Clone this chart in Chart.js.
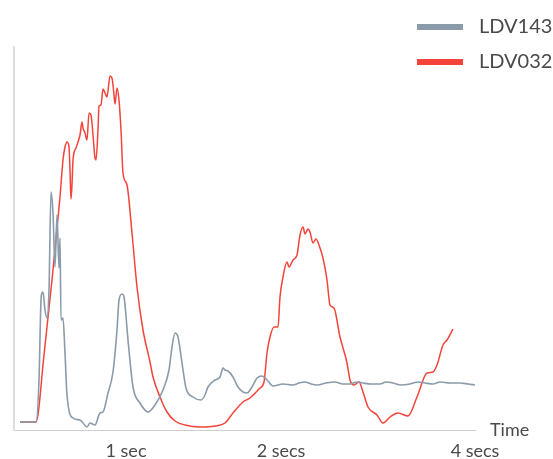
<!DOCTYPE html>
<html>
<head>
<meta charset="utf-8">
<script src="https://cdn.jsdelivr.net/npm/chart.js@4.4.1/dist/chart.umd.min.js"></script>
<style>
  body { margin: 0; background: #fff; font-family: Lato, sans-serif; }
  #wrap { position: relative; width: 553px; height: 459px; }
  #legend { position: absolute; left: 417px; top: 7px; }
  .item { display: flex; align-items: center; height: 35px; color: #4a4a4a; font-size: 20px; }
  .sw { width: 46px; height: 6px; margin-right: 16px; margin-top: 4px; }
</style>
</head>
<body>
<div id="wrap">
  <canvas id="line-chart" width="553" height="459"></canvas>
  <div id="legend"></div>
</div>
<script>
// sample position / amplitude pairs
let LDV143 = [
  [6,8],[22,8],[25,50],[27,130],[28,137],[29,138],[31,120],[33,112],[35,140],[37,238],
  [39,217],[41,163],[43,215],[45,162],[46,192],[47,110],[49,112],[51,77],[53,35],[59,12],
  [66,10],[69,7],[73,3],[76,7],[81,5],[86,17],[89,18],[94,37],[99,58],[103,100],
  [105,130],[108,136],[110,133],[114,90],[119,43],[126,27],[134,18],[141,25],[149,40],[155,60],
  [158,83],[161,97],[164,93],[168,67],[172,42],[179,33],[187,30],[191,35],[194,43],[201,50],
  [206,53],[209,62],[211,60],[214,59],[219,53],[224,43],[229,38],[233,37],[238,43],[243,52],
  [248,54],[253,50],[259,44],[269,46],[279,45],[285,47],[291,48],[297,46],[303,45],[312,47],
  [321,48],[329,46],[336,46],[343,48],[349,47],[357,46],[366,46],[372,48],[379,47],[387,45],
  [396,46],[404,48],[411,47],[419,46],[426,48],[436,47],[446,47],[454,46],[461,45]
];
let LDV032 = [
  [6,8],[14,8],[22,8],[30,75],[38,150],[43,202],[46,233],[49,270],[51,283],[53,288],
  [55,283],[56,260],[57,231],[58,245],[59,270],[62,282],[64,288],[66,295],[68,308],[69,302],
  [71,297],[73,290],[75,317],[77,315],[79,295],[81,272],[82,270],[84,300],[85,324],[87,325],
  [89,341],[91,337],[93,333],[96,354],[98,352],[100,335],[101,326],[103,342],[105,330],[107,300],
  [109,257],[113,245],[118,197],[123,143],[129,100],[136,68],[139,53],[146,33],[153,18],[161,9],
  [171,5],[186,3],[201,4],[211,7],[219,17],[229,28],[236,32],[246,42],[250,48],[253,77],
  [256,93],[260,103],[264,103],[266,133],[269,153],[273,168],[275,163],[279,170],[283,175],[286,195],
  [289,203],[291,196],[294,201],[296,198],[299,187],[302,191],[306,182],[309,172],[313,150],[316,125],
  [320,122],[326,93],[333,67],[336,50],[340,45],[345,48],[349,38],[354,23],[363,15],[369,7],
  [376,13],[384,17],[394,14],[403,33],[413,57],[419,58],[423,65],[429,85],[433,90],[439,101]
];
let tickPos = [112, 267, 461];
let tickText = ["1 sec", "2 secs", "4 secs"];
let seriesNames = ["LDV143", "LDV032"];
let seriesColors = ["#8b9bab", "#f4433a"];

function toPoints(arr) {
    return arr.map(function (p) { return {x: p[0], y: p[1]}; });
}

// "Time" sits to the right of the x axis line
const timeTitle = {
    id: 'timeTitle',
    afterDraw(chart) {
        const c = chart.ctx;
        c.save();
        c.font = '18px Lato';
        c.fillStyle = '#4a4a4a';
        c.textBaseline = 'alphabetic';
        c.fillText('Time', chart.chartArea.right + 15, chart.chartArea.bottom + 6);
        c.restore();
    }
};

const ctx = document.getElementById('line-chart');
const myChart = new Chart(ctx, {
    type: 'line',
    data: {
        datasets: [
            {
                label: seriesNames[0],
                data: toPoints(LDV143),
                borderColor: seriesColors[0],
                backgroundColor: seriesColors[0],
                borderWidth: 1.6,
                pointRadius: 0,
                cubicInterpolationMode: 'monotone',
                fill: false
            },
            {
                label: seriesNames[1],
                data: toPoints(LDV032),
                borderColor: seriesColors[1],
                backgroundColor: seriesColors[1],
                borderWidth: 1.5,
                pointRadius: 0,
                cubicInterpolationMode: 'monotone',
                fill: false
            }
        ]
    },
    options: {
        responsive: false,
        animation: false,
        layout: { padding: { left: 14, right: 78, top: 47, bottom: 0 } },
        plugins: {
            legend: { display: false },
            tooltip: { enabled: false }
        },
        scales: {
            x: {
                type: 'linear',
                min: 0,
                max: 461,
                grid: { display: false, drawTicks: false },
                border: { display: true, color: '#cfcfcf', width: 1 },
                afterBuildTicks: function (scale) {
                    scale.ticks = tickPos.map(function (v) { return {value: v}; });
                },
                afterFit: function (scale) { scale.height = 29; },
                ticks: {
                    autoSkip: false,
                    maxRotation: 0,
                    padding: 10,
                    color: '#4a4a4a',
                    font: { family: 'Lato', size: 18 },
                    callback: function (v) { return tickText[tickPos.indexOf(v)]; }
                }
            },
            y: {
                min: 0,
                max: 383,
                grid: { display: false, drawTicks: false },
                border: { display: true, color: '#dedede', width: 2 },
                ticks: { display: false },
                afterFit: function (scale) { scale.width = 0; }
            }
        }
    },
    plugins: [timeTitle]
});

// legend stacked in the top right corner
let legend = document.getElementById('legend');
for (let i = 0; i < seriesNames.length; i++) {
    let row = document.createElement('div');
    row.className = 'item';
    let sw = document.createElement('span');
    sw.className = 'sw';
    sw.style.background = seriesColors[i];
    let txt = document.createElement('span');
    txt.textContent = seriesNames[i];
    row.appendChild(sw);
    row.appendChild(txt);
    legend.appendChild(row);
}
</script>
</body>
</html>
